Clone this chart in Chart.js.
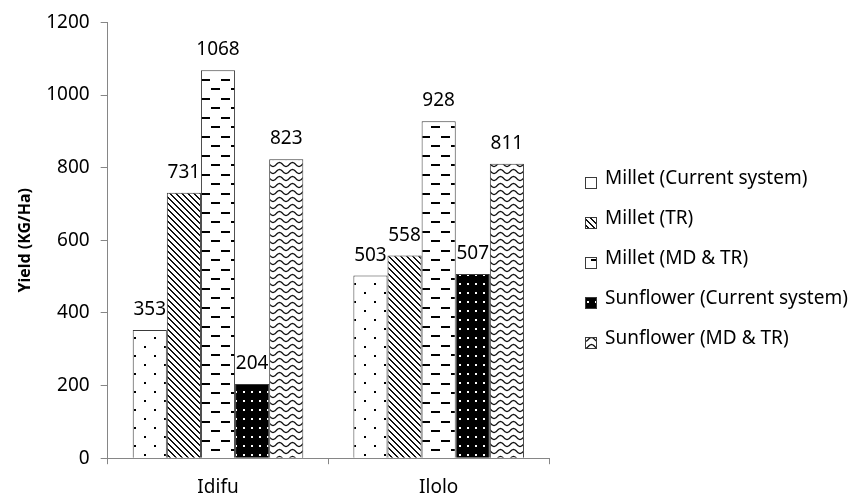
<!DOCTYPE html>
<html>
<head>
<meta charset="utf-8">
<script src="https://cdn.jsdelivr.net/npm/chart.js@4.4.1/dist/chart.umd.min.js"></script>
<style>
  html, body { margin: 0; padding: 0; background: #ffffff; }
  #wrap { width: 855px; height: 494px; }
</style>
</head>
<body>
<div id="wrap"><canvas id="c" width="855" height="494"></canvas></div>
<script>
// Sites (x categories)
const sites = ['Idifu', 'Ilolo'];

// Yield per site, kg/ha
const milletCurrent = [353, 503];
const milletTR = [731, 558];
const milletMDTR = [1068, 928];
const sunflowerCurrent = [204, 507];
const sunflowerMDTR = [823, 811];

const seriesNames = [
  'Millet (Current system)',
  'Millet (TR)',
  'Millet (MD & TR)',
  'Sunflower (Current system)',
  'Sunflower (MD & TR)'
];

// Value axis ticks
const yTicks = [0, 200, 400, 600, 800, 1000, 1200];

const FONT = 'Noto Sans';
const canvas = document.getElementById('c');
const mainCtx = canvas.getContext('2d');

// Build a repeating fill from a small tile
function makePattern(w, h, bg, draw) {
  const t = document.createElement('canvas');
  t.width = w; t.height = h;
  const g = t.getContext('2d');
  g.fillStyle = bg;
  g.fillRect(0, 0, w, h);
  draw(g, w, h);
  return mainCtx.createPattern(t, 'repeat');
}

// Sparse staggered dots on white
const dotsLight = makePattern(20, 18, '#ffffff', g => {
  g.fillStyle = '#000';
  g.fillRect(4, 4, 2, 2);
  g.fillRect(14, 13, 2, 2);
});

// Wide downward diagonal stripes
const diagDown = makePattern(6, 6, '#ffffff', g => {
  g.fillStyle = '#111';
  for (let y = 0; y < 6; y++) {
    for (let x = 0; x < 6; x++) {
      if (((x - y) % 6 + 6) % 6 < 2) g.fillRect(x, y, 1, 1);
    }
  }
});

// Staggered horizontal dashes
const dashes = makePattern(20, 19, '#ffffff', g => {
  g.fillStyle = '#000';
  g.fillRect(1, 3, 9, 2);
  g.fillRect(11, 12, 9, 2);
});

// White dot grid on black
const dotsDark = makePattern(8, 9, '#000000', g => {
  g.fillStyle = '#fff';
  g.fillRect(3, 4, 2, 2);
});

// Horizontal waves
const waves = makePattern(13, 7, '#ffffff', g => {
  g.strokeStyle = '#111';
  g.lineWidth = 1.3;
  g.beginPath();
  for (let x = -1; x <= 14; x += 0.5) {
    const y = 3.5 + 2 * Math.cos(2 * Math.PI * x / 13);
    if (x === -1) g.moveTo(x, y); else g.lineTo(x, y);
  }
  g.stroke();
});

const seriesValues = [milletCurrent, milletTR, milletMDTR, sunflowerCurrent, sunflowerMDTR];
const fills = [dotsLight, diagDown, dashes, dotsDark, waves];

const datasets = seriesNames.map((name, i) => ({
  label: name,
  data: seriesValues[i],
  backgroundColor: fills[i],
  borderColor: '#3a3a3a',
  borderWidth: 1,
  borderSkipped: 'bottom'
}));

// Value labels above each bar
const valueLabels = {
  id: 'valueLabels',
  afterDatasetsDraw(chart) {
    const ctx = chart.ctx;
    ctx.save();
    ctx.fillStyle = '#000';
    ctx.font = '19px "' + FONT + '"';
    ctx.textAlign = 'center';
    ctx.textBaseline = 'alphabetic';
    chart.data.datasets.forEach((ds, di) => {
      const meta = chart.getDatasetMeta(di);
      meta.data.forEach((bar, i) => {
        ctx.fillText(String(ds.data[i]), bar.x, bar.y - 15);
      });
    });
    ctx.restore();
  }
};

// Series key to the right of the plot, one row per dataset
const sideLegend = {
  id: 'sideLegend',
  afterDraw(chart) {
    const ctx = chart.ctx;
    const x0 = chart.chartArea.right + 36;
    const top0 = 177;
    const rowGap = 40;
    const box = 12;
    ctx.save();
    ctx.font = '19px "' + FONT + '"';
    ctx.textAlign = 'left';
    ctx.textBaseline = 'alphabetic';
    chart.data.datasets.forEach((ds, i) => {
      const y = top0 + i * rowGap;
      ctx.fillStyle = ds.backgroundColor;
      ctx.fillRect(x0, y, box, box);
      ctx.strokeStyle = '#3a3a3a';
      ctx.lineWidth = 1;
      ctx.strokeRect(x0 + 0.5, y + 0.5, box - 1, box - 1);
      ctx.fillStyle = '#000';
      ctx.fillText(ds.label, x0 + box + 8, y + 7);
    });
    ctx.restore();
  }
};

new Chart(canvas, {
  type: 'bar',
  data: { labels: sites, datasets },
  plugins: [valueLabels, sideLegend],
  options: {
    responsive: false,
    animation: false,
    layout: { padding: { top: 10, left: 16, right: 306, bottom: -17 } },
    datasets: { bar: { barPercentage: 1, categoryPercentage: 0.773 } },
    plugins: {
      tooltip: { enabled: false },
      legend: { display: false }
    },
    scales: {
      x: {
        grid: { drawOnChartArea: false, drawTicks: true, tickLength: 6, color: '#868686', offset: true },
        border: { color: '#868686' },
        ticks: { color: '#000', padding: 12, font: { family: FONT, size: 19 } }
      },
      y: {
        min: 0,
        max: 1200,
        afterBuildTicks: s => { s.ticks = yTicks.map(v => ({ value: v })); },
        grid: { drawOnChartArea: false, drawTicks: true, tickLength: 7, color: '#868686' },
        border: { color: '#868686' },
        ticks: { color: '#000', padding: 11, font: { family: FONT, size: 19 }, callback: v => String(v) },
        title: {
          display: true,
          text: 'Yield (KG/Ha)',
          color: '#000',
          padding: { top: 0, bottom: 0 },
          font: { family: FONT, size: 16, weight: 'bold' }
        }
      }
    }
  }
});
</script>
</body>
</html>
